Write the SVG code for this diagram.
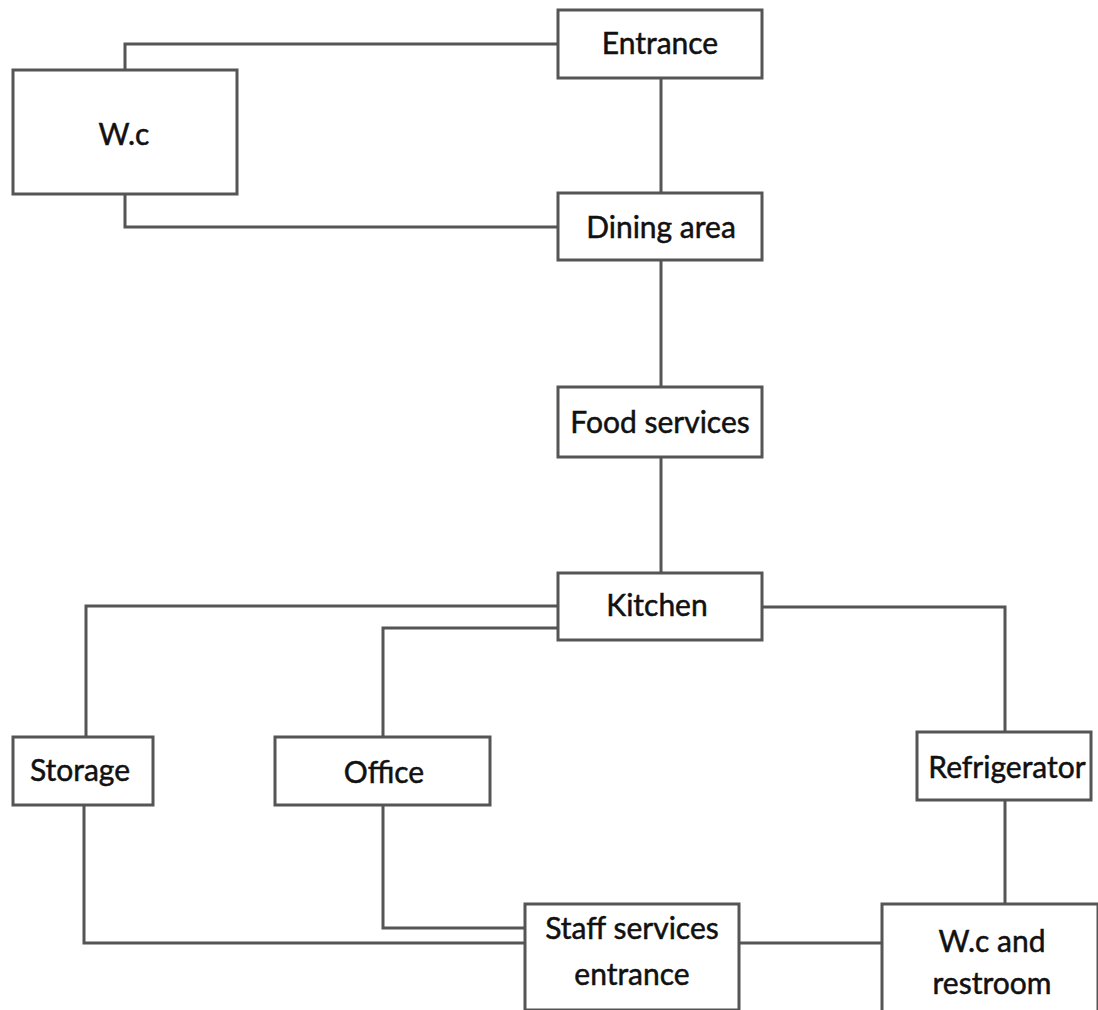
<svg xmlns="http://www.w3.org/2000/svg" width="1098" height="1010" viewBox="0 0 1098 1010">
<style>
.box{fill:#fff;stroke:#555;stroke-width:3;}
.ln{fill:none;stroke:#555;stroke-width:3;}
.t{font-family:Lato,"Open Sans",sans-serif;font-size:30px;fill:#111;stroke:#111;stroke-width:0.5;text-anchor:middle;dominant-baseline:central;}
</style>
<rect width="1098" height="1010" fill="#fff"/>
<g id="connectors">
<polyline class="ln" points="125,70 125,44 558,44"/>
<polyline class="ln" points="125,194 125,227 558,227"/>
<line class="ln" x1="661" y1="78" x2="661" y2="193"/>
<line class="ln" x1="661" y1="260" x2="661" y2="387"/>
<line class="ln" x1="661" y1="457" x2="661" y2="573"/>
<polyline class="ln" points="558,606 86,606 86,737"/>
<polyline class="ln" points="558,628 383,628 383,737"/>
<polyline class="ln" points="762,607 1005,607 1005,732"/>
<line class="ln" x1="1005" y1="800" x2="1005" y2="904"/>
<polyline class="ln" points="84,805 84,943 525,943"/>
<polyline class="ln" points="383,805 383,928 525,928"/>
<line class="ln" x1="739" y1="943" x2="882" y2="943"/>
</g>
<g id="wc"><rect class="box" x="13" y="70" width="224" height="124"/><text class="t" x="124" y="133">W.c</text></g>
<g id="entrance"><rect class="box" x="558" y="10" width="204" height="68"/><text class="t" x="660" y="42">Entrance</text></g>
<g id="dining"><rect class="box" x="558" y="193" width="204" height="67"/><text class="t" x="661" y="226">Dining area</text></g>
<g id="food"><rect class="box" x="558" y="387" width="204" height="70"/><text class="t" x="660" y="421">Food services</text></g>
<g id="kitchen"><rect class="box" x="558" y="573" width="204" height="67"/><text class="t" x="657" y="604">Kitchen</text></g>
<g id="storage"><rect class="box" x="13" y="737" width="140" height="68"/><text class="t" x="80" y="769">Storage</text></g>
<g id="office"><rect class="box" x="275" y="737" width="215" height="68"/><text class="t" x="384" y="771">Office</text></g>
<g id="refrigerator"><rect class="box" x="917" y="732" width="174" height="68"/><text class="t" x="1007" y="766">Refrigerator</text></g>
<g id="staff"><rect class="box" x="525" y="904" width="214" height="106"/><text class="t" x="632" y="927">Staff services</text><text class="t" x="632" y="973">entrance</text></g>
<g id="wcrest"><rect class="box" x="882" y="904" width="216" height="110"/><text class="t" x="992" y="940">W.c and</text><text class="t" x="992" y="982">restroom</text></g>
</svg>
